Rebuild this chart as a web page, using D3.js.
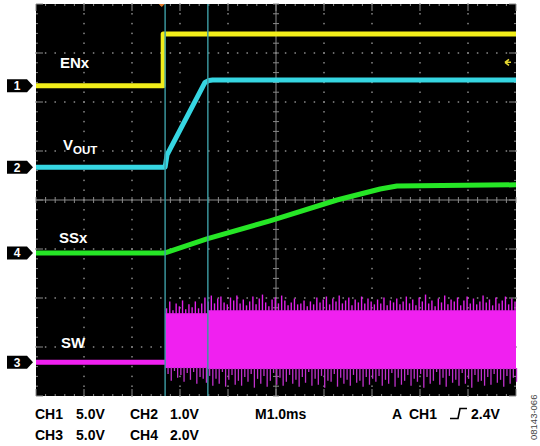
<!DOCTYPE html>
<html><head><meta charset="utf-8">
<script src="https://cdn.jsdelivr.net/npm/d3@7"></script>
<style>body{margin:0;background:#fff}svg{display:block}</style>
</head><body>
<script>
// ---- data (time in ms from left of screen, values in volts) ----
const ch1Points = [[0,0],[2.65,0],[2.65,5.3],[10,5.3]];          // ENx
const ch2Points = [[0,0],[2.69,0],[2.73,0.25],[3.52,1.73],[3.6,1.77],[3.68,1.78],[10,1.78]]; // VOUT
const ch4Points = [[0,0],[2.69,0],[3.56,0.57],[4.875,1.31],[6.27,2.16],[7.17,2.61],[7.52,2.73],[10,2.78]]; // SSx
const ch3Flat = [[0,0],[2.69,0]];                                   // SW before start
const swStart = 2.69, swCursor2 = 3.58;
const swCoreTop = [5.0, 5.3];   // volts (before / after 2nd cursor)
const swCoreBot = [-0.6, -0.7];
const swTop = [5.5,6.2,5.3,6.0,5.7,6.3,5.4,5.9,5.6,6.2,5.5,6.0,
  6.6,6.2,6.8,6.0,6.5,6.7,6.1,5.9,6.6,6.3,6.8,6.0,6.4,5.8,6.2,6.7,5.9,6.5,6.9,6.1,5.7,6.4,6.6,6.0,6.8,6.3,5.8,6.1,6.5,5.9,6.0,6.3,5.7,6.2,5.9,6.6,6.1,6.4,6.7,5.9,6.5,6.2,6.8,6.0,6.3,6.6,5.8,6.4,6.1,6.7,6.0,6.5,6.2,5.9,6.4,6.0,6.6,5.8,6.3,6.1,6.5,5.9,6.2,
  6.7,6.0,6.4,5.8,6.6,6.2,6.9,6.0,6.3,5.7,6.5,6.1,6.8,5.9,6.4,6.2,6.6,5.8,6.3,6.7,6.0,6.5,5.9,6.2,6.8,6.1,6.4,5.8,6.6,6.0,6.3,6.7,5.9,6.5,6.2];
const swBot = [-1.2,-1.9,-0.9,-1.6,-1.3,-2.0,-1.1,-1.8,-1.0,-2.2,-1.5,-1.7,
  -2.1,-1.4,-2.4,-1.7,-2.2,-1.0,-2.5,-1.8,-1.3,-2.3,-1.9,-2.4,-1.5,-2.0,-1.2,-2.6,-1.7,-2.2,-1.4,-2.5,-1.9,-1.1,-2.3,-1.6,-2.4,-2.0,-1.3,-2.2,-1.8,-2.5,-1.5,-2.1,-1.0,-2.4,-1.7,-2.3,-1.4,-2.6,-1.9,-2.0,-1.2,-2.5,-1.6,-2.2,-1.8,-2.4,-1.3,-2.1,-1.9,-2.5,-1.5,-2.3,-1.7,-2.0,-1.4,-2.4,-1.8,-2.2,-1.1,-2.5,-1.6,-2.3,-1.9,
  -1.3,-2.4,-1.7,-2.0,-1.2,-2.6,-1.5,-2.2,-1.9,-1.0,-2.3,-1.6,-2.5,-1.4,-2.1,-1.8,-2.4,-1.1,-2.2,-1.7,-2.6,-1.3,-2.0,-1.9,-2.4,-1.5,-2.3,-1.2,-2.1,-1.8,-2.5,-1.4,-2.2,-1.6,-2.0];
const channels = [
  {id:"1", vdiv:5, offset:2.33, color:"#f2ee1a", label:"ENx"},
  {id:"2", vdiv:1, offset:0.67, color:"#36d6e2", label:"VOUT"},
  {id:"4", vdiv:2, offset:-1.08, color:"#26e626", label:"SSx"},
  {id:"3", vdiv:5, offset:-3.31, color:"#f020f0", label:"SW"}
];
const cursorTimes = [2.69, 3.58];
const triggerTime = 2.62, triggerLevel = 2.4;
const readoutRow1 = [["CH1",35],["5.0V",76],["CH2",130],["1.0V",170],["M1.0ms",255],["A",392],["CH1",409],["2.4V",471]];
const readoutRow2 = [["CH3",35],["5.0V",76],["CH4",130],["2.0V",170]];
const figId = "08143-066";

// ---- layout ----
const W=540,H=446, L=36,R=516,T=4,B=396;
const svg=d3.select("body").append("svg").attr("width",W).attr("height",H);
const x=d3.scaleLinear().domain([0,10]).range([L,R]);
const yd=d3.scaleLinear().domain([-4,4]).range([B,T]);
const yc=(ch,v)=>yd(v/ch.vdiv+ch.offset);
const byId=id=>channels.find(c=>c.id===id);

svg.append("rect").attr("x",L).attr("y",T).attr("width",R-L).attr("height",B-T).attr("fill","#000");
const g=svg.append("g");
const grid=g.append("g").attr("fill","#8a8a8a");
const sub=d3.range(0,10.001,0.2), subY=d3.range(-4,4.001,0.2);
for(let i=1;i<10;i++){ if(i===5) continue;
  subY.forEach(v=>grid.append("rect").attr("x",x(i)-0.75).attr("y",yd(v)-0.75).attr("width",1.5).attr("height",1.5));}
for(let j=-3;j<=3;j++){ if(j===0) continue;
  sub.forEach(t=>grid.append("rect").attr("x",x(t)-0.75).attr("y",yd(j)-0.75).attr("width",1.5).attr("height",1.5));}
const cl=g.append("g").attr("stroke","#8a8a8a").attr("stroke-width",1);
cl.append("line").attr("x1",L).attr("x2",R).attr("y1",yd(0)).attr("y2",yd(0));
cl.append("line").attr("x1",x(5)).attr("x2",x(5)).attr("y1",T).attr("y2",B);
sub.forEach(t=>cl.append("line").attr("x1",x(t)).attr("x2",x(t)).attr("y1",yd(0)-3).attr("y2",yd(0)+3));
subY.forEach(v=>cl.append("line").attr("x1",x(5)-3).attr("x2",x(5)+3).attr("y1",yd(v)).attr("y2",yd(v)));
sub.forEach(t=>{const major=Math.abs(t-Math.round(t))<0.01, len=major?7:2;
  cl.append("line").attr("x1",x(t)).attr("x2",x(t)).attr("y1",T).attr("y2",T+len);
  cl.append("line").attr("x1",x(t)).attr("x2",x(t)).attr("y1",B).attr("y2",B-len);});
subY.forEach(v=>{const major=Math.abs(v-Math.round(v))<0.01, len=major?7:2;
  cl.append("line").attr("x1",L).attr("x2",L+len).attr("y1",yd(v)).attr("y2",yd(v));
  cl.append("line").attr("x1",R).attr("x2",R-len).attr("y1",yd(v)).attr("y2",yd(v));});

// SW band
const c3=byId("3");
const n=swTop.length;
const spikeT=d3.range(n).map(i=>swStart+0.03+i*(10-swStart-0.05)/(n-1));
const sw=g.append("g");
sw.append("rect").attr("x",x(swStart)).attr("width",x(swCursor2)-x(swStart))
  .attr("y",yc(c3,swCoreTop[0])).attr("height",yc(c3,swCoreBot[0])-yc(c3,swCoreTop[0])).attr("fill",c3.color);
sw.append("rect").attr("x",x(swCursor2)).attr("width",x(10)-x(swCursor2))
  .attr("y",yc(c3,swCoreTop[1])).attr("height",yc(c3,swCoreBot[1])-yc(c3,swCoreTop[1])).attr("fill",c3.color);
spikeT.forEach((t,i)=>{
  const core=t<swCursor2?0:1;
  sw.append("line").attr("x1",x(t)).attr("x2",x(t)).attr("y1",yc(c3,swCoreTop[core])+1).attr("y2",yc(c3,swTop[i]))
    .attr("stroke","#e020e8").attr("stroke-width",1.4);
  sw.append("line").attr("x1",x(t)+1.5).attr("x2",x(t)+1.5).attr("y1",yc(c3,swCoreBot[core])-1).attr("y2",yc(c3,swBot[i]))
    .attr("stroke","#c030cc").attr("stroke-width",1.3);
});

// traces
const line=ch=>d3.line().x(d=>x(d[0])).y(d=>yc(ch,d[1]));
g.append("path").datum(ch3Flat).attr("d",line(c3)).attr("stroke",c3.color).attr("stroke-width",5).attr("fill","none");
[["4",ch4Points],["2",ch2Points],["1",ch1Points]].forEach(([id,pts])=>{
  const ch=byId(id);
  g.append("path").datum(pts).attr("d",line(ch)).attr("stroke",ch.color).attr("stroke-width",5)
   .attr("fill","none").attr("stroke-linejoin","round");
});
// cursors
cursorTimes.forEach(t=>g.append("line").attr("x1",x(t)).attr("x2",x(t)).attr("y1",T).attr("y2",B)
  .attr("stroke","#3d9aa2").attr("stroke-width",1.6).attr("opacity",0.9));
// trigger position marker & level arrow
g.append("path").attr("d",`M${x(triggerTime)-3},${T}L${x(triggerTime)+3},${T}L${x(triggerTime)},${T+3}Z`).attr("fill","#e07828");
const c1=byId("1"), ty=yc(c1,triggerLevel);
g.append("path").attr("d",`M${R-11},${ty}L${R-7},${ty-3}M${R-11},${ty}L${R-7},${ty+3}M${R-11},${ty}L${R-5},${ty}`)
  .attr("stroke","#e6d830").attr("stroke-width",1.6).attr("fill","none");

// channel labels
const font="'Liberation Sans',Arial,sans-serif";
const lab=[["1",60,68],["2",63,150],["4",59,243],["3",61,348]];
lab.forEach(([id,lx,ly])=>{const ch=byId(id);
  const t=svg.append("text").attr("x",lx).attr("y",ly).attr("fill","#fff").attr("font-family",font).attr("font-weight","bold").attr("font-size",15);
  if(ch.label==="VOUT"){t.append("tspan").text("V");t.append("tspan").attr("font-size",11.5).attr("dy",4).text("OUT");}
  else t.text(ch.label);
});
// channel ground markers
channels.forEach(ch=>{const cy=yc(ch,0);
  svg.append("path").attr("d",`M7,${cy-6.5}L27,${cy-6.5}L33,${cy}L27,${cy+6.5}L7,${cy+6.5}Z`).attr("fill","#000");
  svg.append("text").attr("x",17).attr("y",cy+4.5).attr("text-anchor","middle").attr("fill","#fff")
    .attr("font-family",font).attr("font-weight","bold").attr("font-size",12).text(ch.id);
});

// readout
const ro=svg.append("g").attr("font-family",font).attr("font-weight","bold").attr("font-size",14).attr("fill","#000");
readoutRow1.forEach(([s,px])=>ro.append("text").attr("x",px).attr("y",419).text(s));
readoutRow2.forEach(([s,px])=>ro.append("text").attr("x",px).attr("y",440).text(s));
svg.append("path").attr("d","M450,418.5L458,418.5L460,408.5L467,408.5").attr("stroke","#000").attr("stroke-width",1.6).attr("fill","none");
svg.append("text").attr("transform","translate(537,440) rotate(-90)").attr("font-family",font).attr("font-size",9.5).attr("fill","#444").text(figId);
</script>
</body></html>
